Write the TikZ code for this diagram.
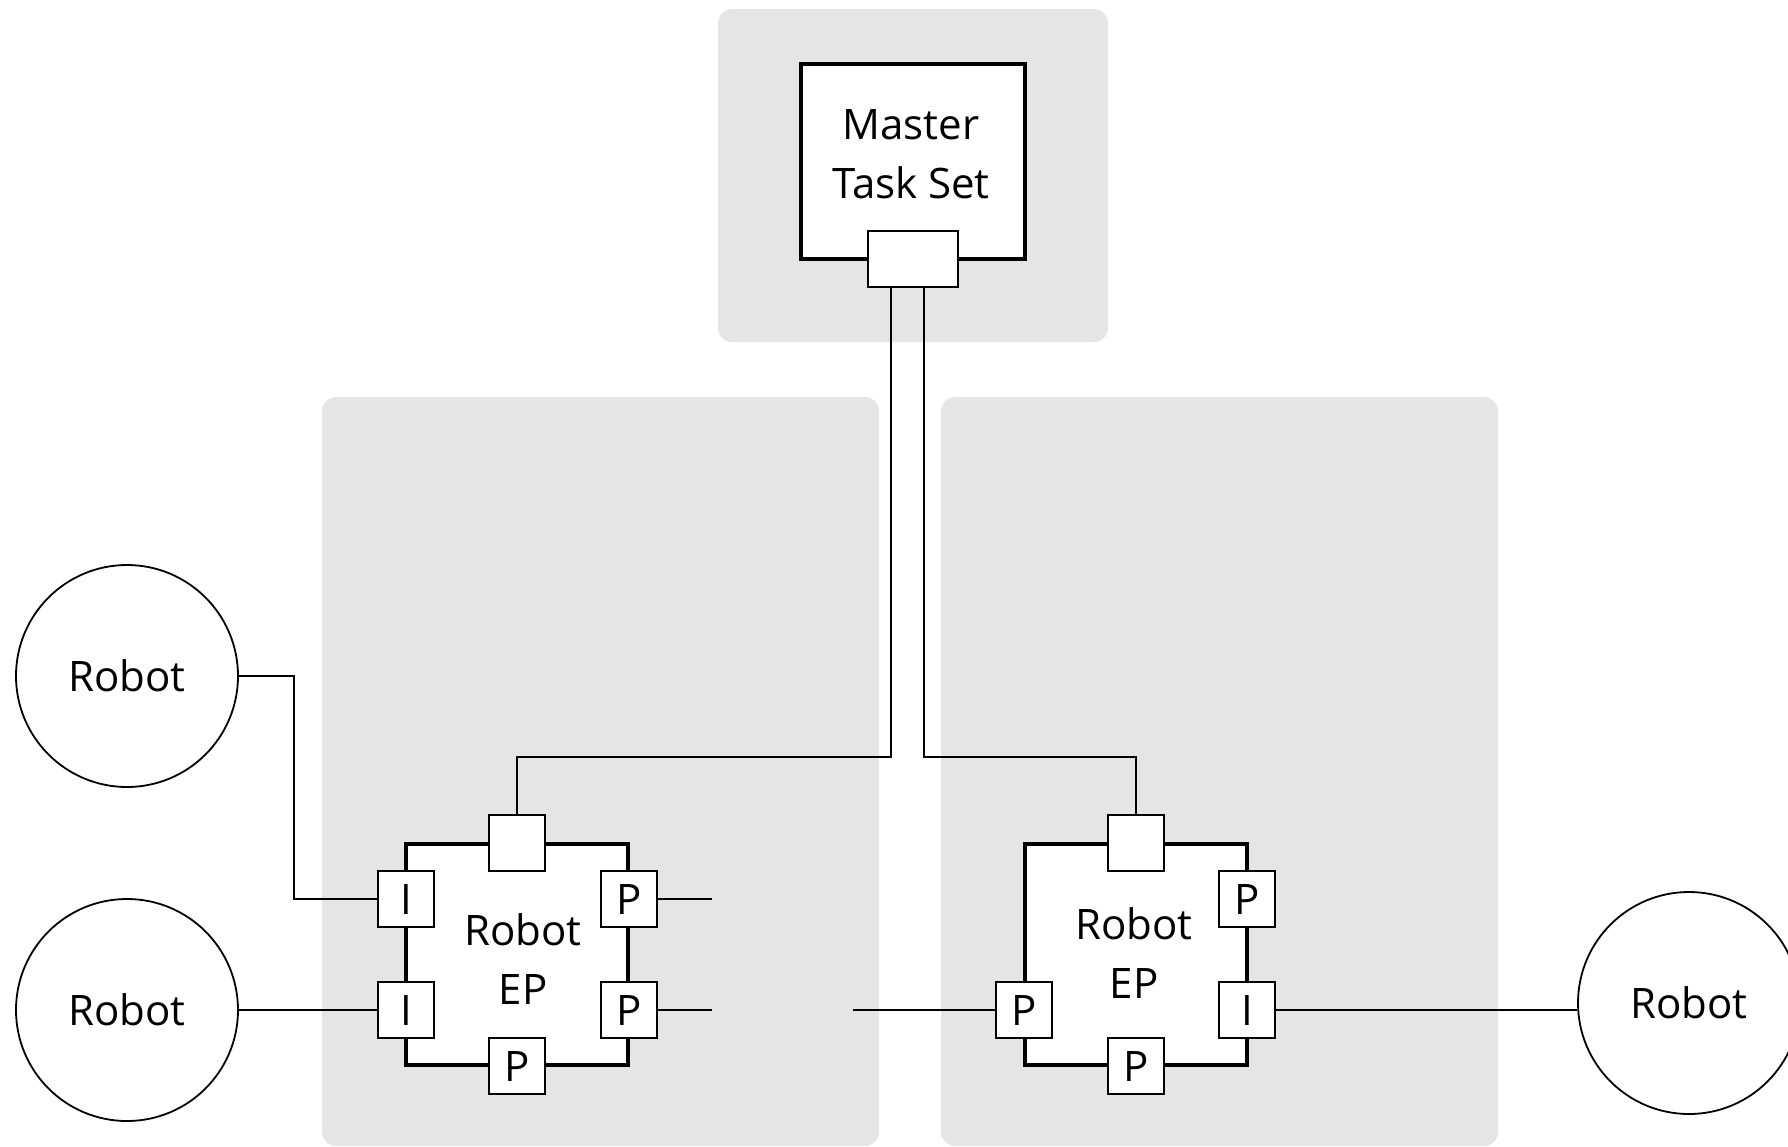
\documentclass[tikz,border=0pt]{standalone}
\usepackage{fontspec}
\setmainfont{Open Sans}
\definecolor{zone}{HTML}{E5E5E5}
\begin{document}
\begin{tikzpicture}[x=0.5pt,y=-0.5pt,
  zonebox/.style={fill=zone,draw=none,rounded corners=7pt},
  robot/.style={circle,draw,line width=0.9pt,minimum size=111pt,inner sep=0pt,fill=white},
  epbox/.style={draw,line width=2.2pt,fill=white,minimum width=111pt,minimum height=110.5pt,inner sep=0pt},
  masterbox/.style={draw,line width=2.2pt,fill=white,minimum width=112pt,minimum height=97.5pt,inner sep=0pt},
  port/.style={draw,line width=0.9pt,fill=white,minimum width=28pt,minimum height=28pt,inner sep=0pt},
  wideport/.style={port,minimum width=45pt},
  conn/.style={line width=0.9pt},
  txt/.style={font=\fontsize{21pt}{29.5pt}\selectfont,align=center,inner sep=0pt}]
\useasboundingbox (0,0) rectangle (1788,1146);
% grey zones
\fill[zonebox] (718,9) rectangle (1108,342);
\fill[zonebox] (322,397) rectangle (879,1146);
\fill[zonebox] (941,397) rectangle (1498,1146);
% master
\node[masterbox] (master) at (913,161.5) {};
\node[txt] (mastertxt) at (911,154) {Master\\Task Set};
\node[wideport] (mport) at (913,259) {};
% left EP
\node[epbox] (lep) at (517,954.5) {};
\node[txt] (leptxt) at (523,959) {Robot\\EP};
\node[port] (ltop) at (517,843) {};
\node[port,txt] (lI1) at (406,899) {I};
\node[port,txt] (lI2) at (406,1010) {I};
\node[port,txt] (lP1) at (629,899) {P};
\node[port,txt] (lP2) at (629,1010) {P};
\node[port,txt] (lPb) at (517,1066) {P};
% right EP
\node[epbox] (rep) at (1136,954.5) {};
\node[txt] (reptxt) at (1134,953) {Robot\\EP};
\node[port] (rtop) at (1136,843) {};
\node[port,txt] (rP1) at (1247,899) {P};
\node[port,txt] (rI) at (1247,1010) {I};
\node[port,txt] (rPl) at (1024,1010) {P};
\node[port,txt] (rPb) at (1136,1066) {P};
% robots
\node[robot,txt] (r1) at (127,676) {Robot};
\node[robot,txt] (r2) at (127,1010) {Robot};
\node[robot,txt] (r3) at (1689,1003) {Robot};
% free ends
\coordinate (e1) at (712,899);
\coordinate (e2) at (712,1010);
\coordinate (e3) at (853,1010);
% connectors
\draw[conn] ([xshift=-11pt]mport.south) |- ([yshift=28.5pt]ltop.north) -- (ltop.north);
\draw[conn] ([xshift=5.5pt]mport.south) |- ([yshift=28.5pt]rtop.north) -- (rtop.north);
\draw[conn] (r1.east) -- ++(27.5pt,0) |- (lI1.west);
\draw[conn] (r2.east) -- (lI2.west);
\draw[conn] (lP1.east) -- (e1);
\draw[conn] (lP2.east) -- (e2);
\draw[conn] (e3) -- (rPl.west);
\draw[conn] (rI.east) -- (rI.east -| r3.west);
\end{tikzpicture}
\end{document}
